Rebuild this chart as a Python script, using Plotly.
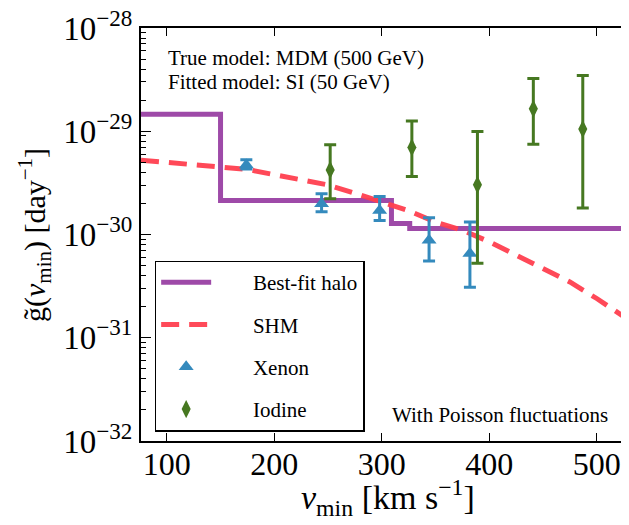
import plotly.graph_objects as go

# ---------------- data ----------------
# Best-fit halo: step function (left edges of steps and levels)
halo_v = [76, 150, 309, 326, 530]
halo_g = [1.46e-29, 2.14e-30, 1.28e-30, 1.14e-30, 1.14e-30]

# SHM curve
shm_v = [76, 100, 125, 150, 175, 200, 225, 250, 275, 300, 325, 350, 375, 400, 425, 450, 475, 500, 530]
shm_g = [5.25e-30, 5.01e-30, 4.79e-30, 4.47e-30, 4.27e-30, 3.80e-30, 3.39e-30, 3.02e-30, 2.51e-30,
         2.09e-30, 1.70e-30, 1.32e-30, 1.10e-30, 8.5e-31, 6.3e-31, 4.8e-31, 3.47e-31, 2.40e-31, 1.48e-31]

# Xenon points
xe_v = [174, 244, 298, 344, 382]
xe_g = [4.71e-30, 1.99e-30, 1.71e-30, 8.8e-31, 6.56e-31]
xe_hi = [5.30e-30, 2.48e-30, 2.33e-30, 1.45e-30, 1.32e-30]
xe_lo = [4.32e-30, 1.66e-30, 1.37e-30, 5.53e-31, 3.08e-31]

# Iodine points
io_v = [252, 328, 389, 441, 487]
io_g = [4.22e-30, 6.97e-30, 3.03e-30, 1.65e-29, 1.05e-29]
io_hi = [7.38e-30, 1.256e-29, 9.93e-30, 3.24e-29, 3.47e-29]
io_lo = [2.22e-30, 3.64e-30, 5.26e-31, 7.50e-30, 1.81e-30]

x_ticks = [100, 200, 300, 400, 500]
y_tick_exp = [-32, -31, -30, -29, -28]

# ---------------- figure ----------------
SERIF = "Liberation Serif"
PURPLE = "#9e4aa8"
RED = "#ff4050"
BLUE = "#348abd"
GREEN = "#467821"
PAD = "\u00a0" * 7

fig = go.Figure()

fig.add_trace(go.Scatter(
    x=halo_v, y=halo_g, mode="lines", line=dict(color=PURPLE, width=5, shape="hv"),
    name=PAD + "Best-fit halo", legendgroup="a"))

fig.add_trace(go.Scatter(
    x=shm_v, y=shm_g, mode="lines", line=dict(color=RED, width=5, dash="18px,10px"),
    opacity=0.95, name=PAD + "SHM", legendgroup="b"))

fig.add_trace(go.Scatter(
    x=xe_v, y=xe_g, mode="markers",
    marker=dict(symbol="triangle-up", size=13, color=BLUE),
    error_y=dict(type="data", symmetric=False,
                 array=[h - g for h, g in zip(xe_hi, xe_g)],
                 arrayminus=[g - l for g, l in zip(xe_g, xe_lo)],
                 color=BLUE, thickness=3, width=6),
    name=PAD + "Xenon", legendgroup="c"))

fig.add_trace(go.Scatter(
    x=io_v, y=io_g, mode="markers",
    marker=dict(symbol="diamond-tall", size=13, color=GREEN),
    error_y=dict(type="data", symmetric=False,
                 array=[h - g for h, g in zip(io_hi, io_g)],
                 arrayminus=[g - l for g, l in zip(io_g, io_lo)],
                 color=GREEN, thickness=3, width=6),
    name=PAD + "Iodine", legendgroup="d"))

# page body has an 8px default margin: figure is sized/offset to compensate
fig.update_layout(
    width=621, height=517,
    margin=dict(l=133, r=0, t=20, b=84),
    paper_bgcolor="white", plot_bgcolor="white",
    font=dict(family=SERIF, color="black"),
    showlegend=True,
    legend=dict(x=0.028, y=0.437, xanchor="left", yanchor="top",
                bordercolor="black", borderwidth=1.5, bgcolor="white",
                font=dict(family=SERIF, size=21),
                traceorder="grouped", tracegroupgap=12, itemwidth=50),
    xaxis=dict(range=[76, 530], tickvals=x_ticks, ticktext=[str(v) for v in x_ticks],
               automargin=False, ticklabeloverflow="allow", ticklabelstandoff=-6,
               ticks="inside", ticklen=8, tickwidth=1, tickcolor="black",
               showline=True, linecolor="black", linewidth=2, mirror="ticks",
               showgrid=False, zeroline=False,
               tickfont=dict(family=SERIF, size=32)),
    yaxis=dict(type="log", range=[-32, -28], automargin=False, ticklabeloverflow="allow",
               tickvals=[10.0 ** e for e in y_tick_exp],
               ticktext=["10<sup>−%d</sup>" % (-e) for e in y_tick_exp],
               ticks="inside", ticklen=10, tickwidth=1, tickcolor="black",
               minor=dict(ticks="inside", ticklen=5, tickcolor="black",
                          tickvals=[m * 10.0 ** e for e in y_tick_exp[:-1] for m in range(2, 10)]),
               showline=True, linecolor="black", linewidth=2,
               showgrid=False, zeroline=False,
               tickfont=dict(family=SERIF, size=33)),
    annotations=[
        dict(text="<i>v</i><sub>min</sub> [km s<sup>−1</sup>]", xref="paper", yref="paper",
             x=0.506, y=-0.137, xanchor="center", yanchor="middle", showarrow=False,
             font=dict(family=SERIF, size=34)),
        dict(text="g\u0303(<i>v</i><sub>min</sub>) [day<sup>−1</sup>]", xref="paper", yref="paper",
             x=-0.217, y=0.499, xanchor="center", yanchor="middle", showarrow=False,
             textangle=-90, font=dict(family=SERIF, size=30)),
        dict(text="True model: MDM (500 GeV)", xref="paper", yref="paper",
             x=0.051, y=0.927, xanchor="left", yanchor="middle", showarrow=False,
             font=dict(family=SERIF, size=21)),
        dict(text="Fitted model: SI (50 GeV)", xref="paper", yref="paper",
             x=0.051, y=0.869, xanchor="left", yanchor="middle", showarrow=False,
             font=dict(family=SERIF, size=21)),
        dict(text="With Poisson fluctuations", xref="paper", yref="paper",
             x=0.961, y=0.063, xanchor="right", yanchor="middle", showarrow=False,
             font=dict(family=SERIF, size=21)),
    ],
)

fig.write_html("out.html")
